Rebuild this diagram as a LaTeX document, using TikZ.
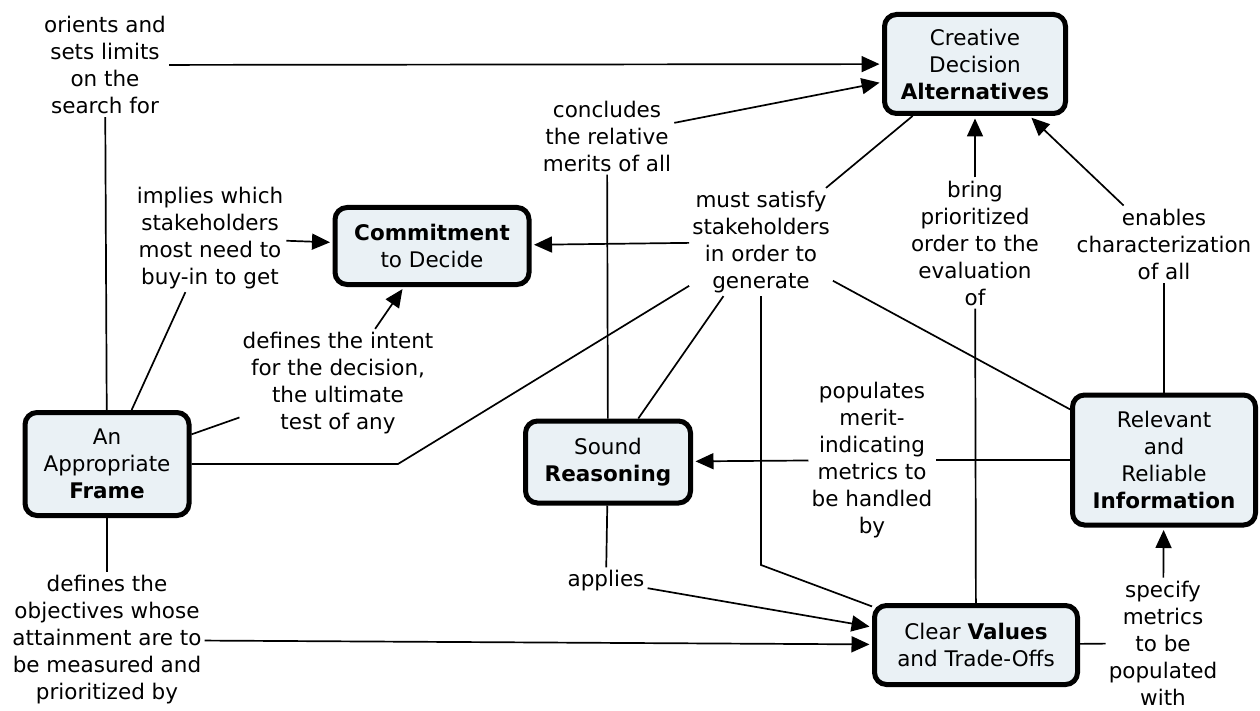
\documentclass[tikz,border=0pt]{standalone}
\usepackage{fontspec}
\setmainfont{DejaVu Sans}
\usetikzlibrary{arrows.meta}
\definecolor{nodefill}{RGB}{234,241,245}
\newcommand{\mapfont}{\fontsize{21.5}{27}\selectfont}
\begin{document}
\begin{tikzpicture}[x=1pt,y=-1pt,
  concept/.style={draw=black, line width=5pt, rounded corners=12pt, fill=nodefill,
    align=center, inner sep=0pt, font=\mapfont},
  linkphrase/.style={align=center, inner sep=3pt, font=\mapfont},
  conn/.style={line width=1.7pt},
  arr/.style={conn, -{Triangle[length=18pt,width=16pt]}, shorten >=2.5pt}]
\useasboundingbox (0,0) rectangle (1260,711);
\fill[white] (0,0) rectangle (1260,711);

% concepts
\node[concept, minimum width=181pt, minimum height=99pt] (alt) at (975,64)
  {Creative\\Decision\\\textbf{Alternatives}};
\node[concept, minimum width=194pt, minimum height=77pt] (commit) at (432,246)
  {\textbf{Commitment}\\to Decide};
\node[concept, minimum width=164pt, minimum height=103pt] (frame) at (107,464)
  {An\\Appropriate\\\textbf{Frame}};
\node[concept, minimum width=165pt, minimum height=82pt] (reason) at (608,462)
  {Sound\\\textbf{Reasoning}};
\node[concept, minimum width=183pt, minimum height=130pt] (info) at (1164,460)
  {Relevant\\and\\Reliable\\\textbf{Information}};
\node[concept, minimum width=203pt, minimum height=79pt] (values) at (976,645)
  {Clear \textbf{Values}\\and Trade-Offs};

% linking phrases
\node[linkphrase] (l1) at (105,65) {orients and\\sets limits\\on the\\search for};
\node[linkphrase] (l2) at (607,136) {concludes\\the relative\\merits of all};
\node[linkphrase] (l3) at (210,238) {implies which\\stakeholders\\most need to\\buy-in to get};
\node[linkphrase] (l4) at (761,242) {must satisfy\\stakeholders\\in order to\\generate};
\node[linkphrase] (l5) at (975,243) {bring\\prioritized\\order to the\\evaluation\\of};
\node[linkphrase] (l6) at (1164,244) {enables\\characterization\\of all};
\node[linkphrase] (l7) at (338,383) {defines the intent\\for the decision,\\the ultimate\\test of any};
\node[linkphrase] (l8) at (872,460) {populates\\merit-\\indicating\\metrics to\\be handled\\by};
\node[linkphrase] (l9) at (107,640) {defines the\\objectives whose\\attainment are to\\be measured and\\prioritized by};
\node[linkphrase] (l10) at (606,581) {applies};
\node[linkphrase] (l11) at (1163,643) {specify\\metrics\\to be\\populated\\with};

% bend points
\coordinate (b1) at (398,464);
\coordinate (b2) at (761,565);

% connectors
\draw[conn] (frame) -- (l1);
\draw[arr] (l1) -- (alt);
\draw[conn] (frame) -- (l3);
\draw[arr] (l3) -- (commit);
\draw[conn] (frame) -- (l7);
\draw[arr] (l7) -- (commit);
\draw[conn] (frame) -- (b1) -- (l4);
\draw[conn] (frame) -- (l9);
\draw[arr] (l9) -- (values);
\draw[conn] (reason) -- (l2);
\draw[arr] (l2) -- (alt);
\draw[conn] (reason) -- (l4);
\draw[conn] (reason) -- (l10);
\draw[arr] (l10) -- (values);
\draw[conn] (info) -- (l4);
\draw[conn] (alt) -- (l4);
\draw[arr] (l4) -- (commit);
\draw[conn] (values) -- (b2) -- (l4);
\draw[conn] (values) -- (l5);
\draw[arr] (l5) -- (alt);
\draw[conn] (info) -- (l6);
\draw[arr] (l6) -- (alt);
\draw[conn] (info) -- (l8);
\draw[arr] (l8) -- (reason);
\draw[conn] (values) -- (l11);
\draw[arr] (l11) -- (info);
\end{tikzpicture}
\end{document}
